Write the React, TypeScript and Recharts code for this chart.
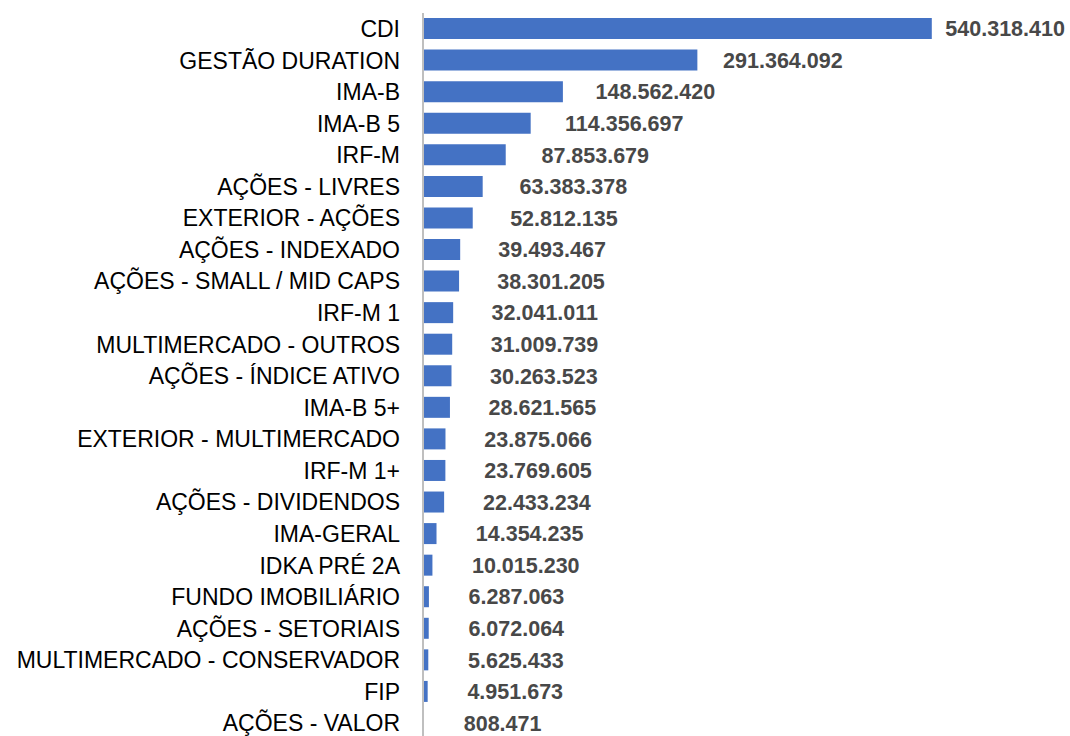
import { BarChart, Bar, XAxis, YAxis, LabelList } from 'recharts';

const categorias = [
  'CDI',
  'GESTÃO DURATION',
  'IMA-B',
  'IMA-B 5',
  'IRF-M',
  'AÇÕES - LIVRES',
  'EXTERIOR - AÇÕES',
  'AÇÕES - INDEXADO',
  'AÇÕES - SMALL / MID CAPS',
  'IRF-M 1',
  'MULTIMERCADO - OUTROS',
  'AÇÕES - ÍNDICE ATIVO',
  'IMA-B 5+',
  'EXTERIOR - MULTIMERCADO',
  'IRF-M 1+',
  'AÇÕES - DIVIDENDOS',
  'IMA-GERAL',
  'IDKA PRÉ 2A',
  'FUNDO IMOBILIÁRIO',
  'AÇÕES - SETORIAIS',
  'MULTIMERCADO - CONSERVADOR',
  'FIP',
  'AÇÕES - VALOR',
];

const valores = [
  540318410, 291364092, 148562420, 114356697, 87853679, 63383378, 52812135,
  39493467, 38301205, 32041011, 31009739, 30263523, 28621565, 23875066,
  23769605, 22433234, 14354235, 10015230, 6287063, 6072064, 5625433, 4951673,
  808471,
];

const data = categorias.map((nome, i) => ({ nome, valor: valores[i] }));

const fmt = (v: number) => String(Math.round(v)).replace(/\B(?=(\d{3})+(?!\d))/g, '.');

const FONTE = 'Liberation Sans, Arial, sans-serif';

const ValueLabel = (props: any) => {
  const { x, y, width, height, value } = props;
  const lx = x + 40 + width * 0.948;
  return (
    <text
      x={lx}
      y={y + height / 2}
      dy="0.36em"
      fill="#484848"
      fontSize={21.5}
      fontWeight="bold"
      fontFamily={FONTE}
    >
      {fmt(value)}
    </text>
  );
};

export default function App() {
  return (
    <div style={{ position: 'absolute', left: 0, top: 0, width: 1070, height: 736, overflow: 'hidden', background: '#fff' }}>
      <BarChart
        width={1070}
        height={745}
        data={data}
        layout="vertical"
        margin={{ top: 13, right: 82, bottom: 6, left: 0 }}
        barCategoryGap="16%"
      >
        <XAxis type="number" domain={[0, 600000000]} hide />
        <YAxis
          type="category"
          dataKey="nome"
          width={423}
          interval={0}
          tickLine={false}
          tickSize={0}
          tickMargin={23}
          axisLine={{ stroke: '#BFBFBF', strokeWidth: 2 }}
          tick={{ fill: '#000', fontSize: 23, fontFamily: FONTE }}
        />
        <Bar dataKey="valor" fill="#4472C4" isAnimationActive={false}>
          <LabelList dataKey="valor" content={ValueLabel} />
        </Bar>
      </BarChart>
    </div>
  );
}
